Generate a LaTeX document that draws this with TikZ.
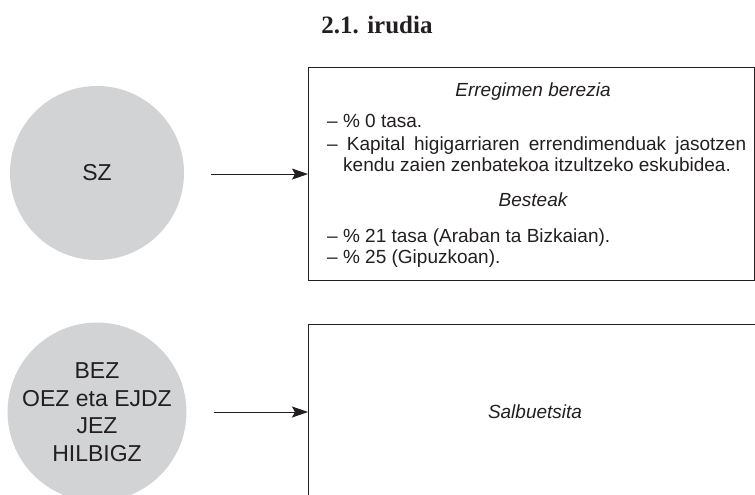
\documentclass[tikz,border=0pt]{standalone}
\usepackage{fontspec}
\setmainfont{Liberation Sans}
\newfontfamily\titlefont{Liberation Serif}
\usetikzlibrary{arrows.meta}
\definecolor{ink}{HTML}{231F20}
\definecolor{discgray}{HTML}{D1D3D4}
\begin{document}
\begin{tikzpicture}[x=1pt,y=-1pt,text=ink,
  disc/.style={circle, fill=discgray, minimum size=174pt, inner sep=0pt, align=center, font=\fontsize{23}{27.5}\selectfont},
  panel/.style={draw=ink, line width=1.1pt, inner sep=0pt},
  conn/.style={draw=ink, line width=0.9pt, -{Stealth[length=16pt,width=11pt,inset=3pt]}},
  txtline/.style={anchor=base west, inner sep=0pt, font=\fontsize{19}{22}\selectfont},
  headline/.style={anchor=base, inner sep=0pt, font=\fontsize{19}{22}\selectfont\itshape}]
\useasboundingbox (0,0) rectangle (755,495);
\clip (0,0) rectangle (755,495);
\fill[white] (0,0) rectangle (755,495);
\node[font=\titlefont\bfseries\fontsize{25}{29}\selectfont, anchor=base, inner sep=0pt] (title) at (377,34) {2.1. irudia};
\node[panel, minimum width=446pt, minimum height=213pt, anchor=north west] (b1) at (308,67) {};
\node[panel, minimum width=500pt, minimum height=250pt, anchor=north west] (b2) at (308,324) {};
\node[disc] (sz) at (97,173) {SZ};
\node[disc] (bez) at (97,412) {BEZ\\OEZ eta EJDZ\\JEZ\\HILBIGZ};
\draw[conn] ([xshift=27pt]sz.east |- b1.west) -- (b1.west);
\draw[conn] ([xshift=27pt]bez.east) -- (bez.east -| b2.west);
\node[headline] (h1) at (533,96) {Erregimen berezia};
\node[txtline] (l1) at (327,127) {– \% 0 tasa.};
\node[txtline] (l2) at (327,150) {\makebox[419pt][s]{– Kapital higigarriaren errendimenduak jasotzen}};
\node[txtline] (l3) at (343,171) {kendu zaien zenbatekoa itzultzeko eskubidea.};
\node[headline] (h2) at (533,206) {Besteak};
\node[txtline] (l4) at (327,242) {– \% 21 tasa (Araban ta Bizkaian).};
\node[txtline] (l5) at (327,263) {– \% 25 (Gipuzkoan).};
\node[headline] (h3) at (535,418) {Salbuetsita};
\end{tikzpicture}
\end{document}
